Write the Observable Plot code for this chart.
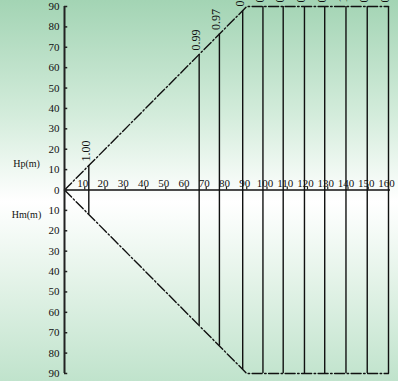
<!DOCTYPE html>
<html>
<head>
<meta charset="utf-8">
<script src="https://cdn.jsdelivr.net/npm/d3@7"></script>
<script src="https://cdn.jsdelivr.net/npm/@observablehq/plot@0.6"></script>
<style>
  html, body { margin: 0; padding: 0; background: #ffffff; }
  #chart svg { display: block; }
</style>
</head>
<body>
<div id="chart"></div>
<script>
// Tick values
const xTicks = [10, 20, 30, 40, 50, 60, 70, 80, 90, 100, 110, 120, 130, 140, 150, 160];
const yTicks = [-90, -80, -70, -60, -50, -40, -30, -20, -10, 0, 10, 20, 30, 40, 50, 60, 70, 80, 90];
// Envelope (dash-dot boundary), upper half; lower half is its mirror
const envX = [0, 90, 160];
const envY = [0, 90, 90];
// Vertical lines (x positions) and their efficiency labels
const lineX = [12, 66.5, 76.5, 88, 98, 108, 118.5, 128.5, 139, 149.5, 160];
const lineLabels = ["1.00", "0.99", "0.97", "0.96", "0.95", "0.94", "0.93", "0.92", "1.91", "0.90", "0.89"];
// Axis titles
const axisTitles = ["Hp(m)", "Hm(m)"];

const envTop = (x) => Math.min(x, 90);
const upper = envX.map((x, i) => ({x, y: envY[i]}));
const lower = envX.map((x, i) => ({x, y: -envY[i]}));
const lines = lineX.map((x, i) => ({x, top: envTop(x), label: lineLabels[i]}));

const font = "Liberation Serif, DejaVu Serif, serif";

const chart = Plot.plot({
  width: 398,
  height: 381,
  marginLeft: 64,
  marginRight: 10,
  marginTop: 6,
  marginBottom: 8,
  x: {domain: [0, 160], axis: null},
  y: {domain: [-90, 90], axis: null},
  style: {
    background: "linear-gradient(to bottom, #a3d4b4 0%, #d3ecdb 30%, #ffffff 53%, #e6f4ea 72%, #c0e3cc 100%)",
    fontFamily: font,
    fontSize: "11px",
    color: "#111",
    overflow: "visible"
  },
  marks: [
    // vertical lines
    Plot.ruleX(lines, {x: "x", y1: d => -d.top, y2: d => d.top, stroke: "#111", strokeWidth: 1.4}),
    // envelope dash-dot
    Plot.line(upper, {x: "x", y: "y", stroke: "#111", strokeWidth: 1.4, strokeDasharray: "10,2.5,1.5,2.5"}),
    Plot.line(lower, {x: "x", y: "y", stroke: "#111", strokeWidth: 1.4, strokeDasharray: "10,2.5,1.5,2.5"}),
    // x axis line
    Plot.ruleY([0], {x1: 0, x2: 161, stroke: "#111", strokeWidth: 1.6}),
    // y axis line
    Plot.ruleX([0], {y1: -90, y2: 90, stroke: "#222", strokeWidth: 2}),
    // y ticks (inward)
    Plot.ruleY(yTicks, {y: d => d, x1: 0, x2: 1.6, stroke: "#222", strokeWidth: 1.5}),
    // y tick labels
    Plot.text(yTicks, {x: 0, y: d => d, text: d => String(Math.abs(d)), textAnchor: "end", dx: -5, fontSize: 11, fill: "#111"}),
    // x ticks (upward)
    Plot.ruleX(xTicks, {x: d => d, y1: 0, y2: 1.5, stroke: "#222", strokeWidth: 1.2}),
    // x tick labels above the axis
    Plot.text(xTicks, {x: d => d, y: 0, text: d => String(d), lineAnchor: "bottom", dy: -3, dx: -2, fontSize: 11, fill: "#111"}),
    // rotated labels on vertical lines
    Plot.text(lines, {x: "x", y: "top", text: "label", rotate: -90, textAnchor: "start", dx: -3, dy: -4, fontSize: 12, fill: "#111"}),
    // axis titles
    Plot.text([axisTitles[0]], {frameAnchor: "left", y: 13, text: d => d, dx: -38, textAnchor: "middle", fontSize: 10, fill: "#111"}),
    Plot.text([axisTitles[1]], {frameAnchor: "left", y: -12, text: d => d, dx: -38, textAnchor: "middle", fontSize: 10, fill: "#111"})
  ]
});
document.getElementById("chart").appendChild(chart);
</script>
</body>
</html>
